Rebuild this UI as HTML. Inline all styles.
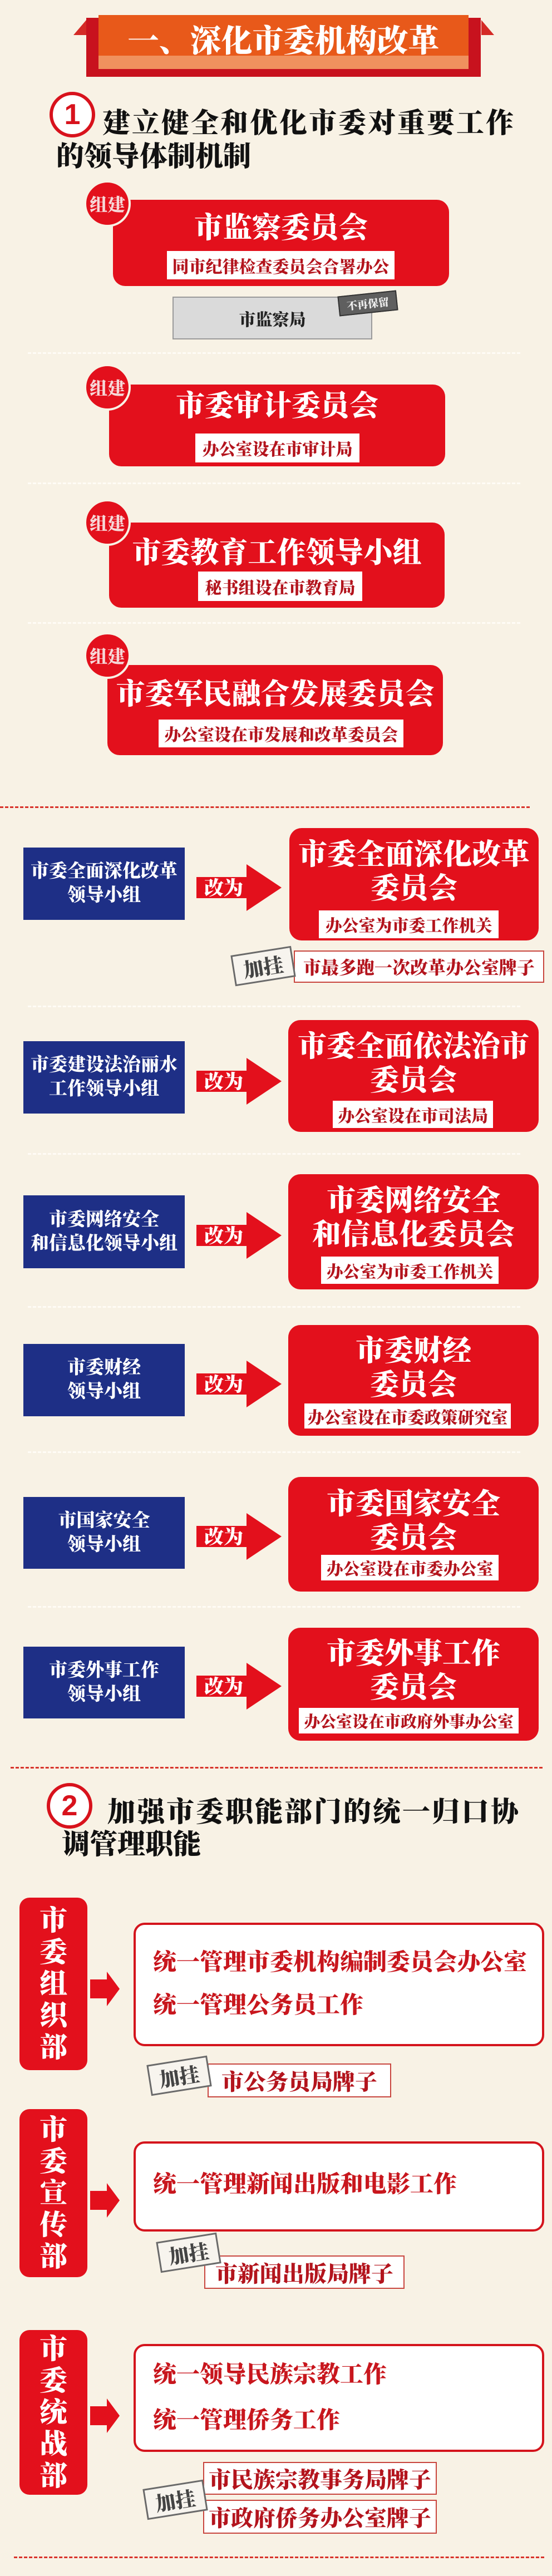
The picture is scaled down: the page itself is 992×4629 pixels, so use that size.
<!DOCTYPE html>
<html><head><meta charset="utf-8">
<style>
*{margin:0;padding:0;box-sizing:border-box}
body{width:992px;height:4629px;background:#f8f2e5;position:relative;overflow:hidden;font-family:"Liberation Serif","Noto Serif CJK SC",serif;font-weight:900}
.a{position:absolute}
.c{display:flex;align-items:center;justify-content:center;text-align:center}
.red{background:#e3101c;border-radius:22px}
.wl{background:#fff;color:#b3141d;font-size:30px;white-space:nowrap}
.blue{background:#1e2f86;color:#fff;font-size:33px;line-height:43px;flex-direction:column}
.tt{color:#fff;font-size:52px;line-height:61px;white-space:nowrap}
.dot{position:absolute;left:50px;width:885px;border-top:3px dashed #fffcf6}
.rd{position:absolute;height:0;border-top:3px dashed #d8332a}
.stamp{position:absolute;background:#f7f4ee;border:3px solid #6a6a6a;color:#444;font-size:36px;display:flex;align-items:center;justify-content:center;transform:rotate(-9deg)}
.lab{position:absolute;background:#fff;border:2px solid #c8453e;color:#b3141d;font-size:40px;display:flex;align-items:center;justify-content:center;white-space:nowrap}
.dept{position:absolute;left:35px;width:122px;background:#e3101c;border-radius:18px;color:#fff;font-size:50px;line-height:57px;display:flex;flex-direction:column;align-items:center;justify-content:center}
.wb{position:absolute;left:240px;width:738px;background:#fff;border:4px solid #d4141c;border-radius:20px;color:#c8161d;font-size:42px;padding-left:31px;display:flex;flex-direction:column;justify-content:center;white-space:nowrap}
.circ{position:absolute;width:82px;height:82px;border-radius:50%;border:6px solid #d8121c;background:#fff;color:#d8121c;font-size:52px;display:flex;align-items:center;justify-content:center;font-family:"Liberation Sans",sans-serif;font-weight:700}
.zj{position:absolute;width:84px;height:84px;border-radius:50%;background:#e3101c;border:4px solid #f8f2e5;color:#f6d8d8;font-size:32px;display:flex;align-items:center;justify-content:center}
.h{position:absolute;color:#111;font-size:50px;white-space:nowrap;line-height:60px;display:flex}
.h span{display:block;width:50px;text-align:center;flex:none}
.h.sp span{width:53px;text-align:left}
</style></head><body>

<!-- banner -->
<div class="a" style="left:155px;top:32px;width:709px;height:106px;background:#c8121e"></div>
<svg class="a" style="left:130px;top:32px" width="760" height="40"><polygon points="2,31 25,4 25,31" fill="#d42a26"/><polygon points="735,4 758,31 735,31" fill="#d42a26"/></svg>
<div class="a" style="left:177px;top:27px;width:665px;height:97px;background:#e8591a"></div>
<div class="a" style="left:177px;top:100px;width:665px;height:24px;background:#f0915e"></div>
<div class="a c" style="left:177px;top:27px;width:665px;height:86px;color:#fff;font-size:56px;white-space:nowrap">一、深化市委机构改革</div>

<!-- heading 1 -->
<div class="circ" style="left:89px;top:165px">1</div>
<div class="h sp" style="left:184px;top:191px"><span>建</span><span>立</span><span>健</span><span>全</span><span>和</span><span>优</span><span>化</span><span>市</span><span>委</span><span>对</span><span>重</span><span>要</span><span>工</span><span>作</span></div>
<div class="h" style="left:101px;top:251px"><span>的</span><span>领</span><span>导</span><span>体</span><span>制</span><span>机</span><span>制</span></div>

<!-- box1 -->
<div class="a red" style="left:203px;top:359px;width:604px;height:155px"></div>
<div class="a c tt" style="left:203px;top:380px;width:604px;height:61px">市监察委员会</div>
<div class="a c wl" style="left:300px;top:451px;width:409px;height:51px">同市纪律检查委员会合署办公</div>
<div class="zj" style="left:151px;top:324px">组建</div>
<div class="a c" style="left:310px;top:533px;width:359px;height:77px;background:#dadada;border:2px solid #9a9a9a;color:#222;font-size:30px">市监察局</div>
<div class="a c" style="left:608px;top:527px;width:106px;height:36px;background:#5f5f5f;color:#eee;font-size:19px;transform:rotate(-6deg);border:2px solid #333">不再保留</div>
<div class="dot" style="top:633px"></div>

<!-- box2 -->
<div class="a red" style="left:196px;top:691px;width:604px;height:147px"></div>
<div class="a c tt" style="left:196px;top:700px;width:604px;height:61px">市委审计委员会</div>
<div class="a c wl" style="left:351px;top:779px;width:295px;height:52px">办公室设在市审计局</div>
<div class="zj" style="left:151px;top:654px">组建</div>
<div class="dot" style="top:867px"></div>

<!-- box3 -->
<div class="a red" style="left:196px;top:939px;width:603px;height:153px"></div>
<div class="a c tt" style="left:196px;top:964px;width:603px;height:61px">市委教育工作领导小组</div>
<div class="a c wl" style="left:356px;top:1027px;width:295px;height:53px">秘书组设在市教育局</div>
<div class="zj" style="left:151px;top:897px">组建</div>
<div class="dot" style="top:1118px"></div>

<!-- box4 -->
<div class="a red" style="left:193px;top:1195px;width:603px;height:162px"></div>
<div class="a c tt" style="left:193px;top:1218px;width:603px;height:61px">市委军民融合发展委员会</div>
<div class="a c wl" style="left:285px;top:1293px;width:440px;height:50px">办公室设在市发展和改革委员会</div>
<div class="zj" style="left:151px;top:1136px">组建</div>

<div class="rd" style="left:0;top:1449px;width:952px"></div>

<svg width="0" height="0" style="position:absolute"><defs><g id="arr"><polygon points="0,23 90,23 90,0 153,42 90,84 90,61 0,61" fill="#e3101c"/></g></defs></svg>

<!-- row1 -->
<div class="a c blue" style="left:42px;top:1523px;width:290px;height:130px"><div>市委全面深化改革</div><div>领导小组</div></div>
<svg class="a" style="left:353px;top:1553px" width="154" height="85"><use href="#arr"/><text x="49" y="55" fill="#fff" font-size="35" text-anchor="middle" font-family="Liberation Serif, Noto Serif CJK SC, serif" font-weight="900">改为</text></svg>
<div class="a red" style="left:520px;top:1488px;width:448px;height:202px"></div>
<div class="a c tt" style="left:520px;top:1506px;width:448px;flex-direction:column"><div>市委全面深化改革</div><div>委员会</div></div>
<div class="a c wl" style="left:573px;top:1636px;width:323px;height:50px">办公室为市委工作机关</div>
<div class="lab" style="left:528px;top:1708px;width:450px;height:58px;font-size:32px">市最多跑一次改革办公室牌子</div>
<div class="stamp" style="left:418px;top:1708px;width:110px;height:56px">加挂</div>
<div class="dot" style="top:1807px"></div>

<!-- row2 -->
<div class="a c blue" style="left:42px;top:1871px;width:290px;height:130px"><div>市委建设法治丽水</div><div>工作领导小组</div></div>
<svg class="a" style="left:353px;top:1901px" width="154" height="85"><use href="#arr"/><text x="49" y="55" fill="#fff" font-size="35" text-anchor="middle" font-family="Liberation Serif, Noto Serif CJK SC, serif" font-weight="900">改为</text></svg>
<div class="a red" style="left:518px;top:1833px;width:450px;height:201px"></div>
<div class="a c tt" style="left:518px;top:1851px;width:450px;flex-direction:column"><div>市委全面依法治市</div><div>委员会</div></div>
<div class="a c wl" style="left:598px;top:1978px;width:288px;height:49px">办公室设在市司法局</div>
<div class="dot" style="top:2072px"></div>

<!-- row3 -->
<div class="a c blue" style="left:42px;top:2148px;width:290px;height:131px"><div>市委网络安全</div><div>和信息化领导小组</div></div>
<svg class="a" style="left:353px;top:2178px" width="154" height="85"><use href="#arr"/><text x="49" y="55" fill="#fff" font-size="35" text-anchor="middle" font-family="Liberation Serif, Noto Serif CJK SC, serif" font-weight="900">改为</text></svg>
<div class="a red" style="left:518px;top:2110px;width:450px;height:207px"></div>
<div class="a c tt" style="left:518px;top:2128px;width:450px;flex-direction:column"><div>市委网络安全</div><div>和信息化委员会</div></div>
<div class="a c wl" style="left:577px;top:2258px;width:319px;height:49px">办公室为市委工作机关</div>
<div class="dot" style="top:2347px"></div>

<!-- row4 -->
<div class="a c blue" style="left:42px;top:2415px;width:290px;height:130px"><div>市委财经</div><div>领导小组</div></div>
<svg class="a" style="left:353px;top:2445px" width="154" height="85"><use href="#arr"/><text x="49" y="55" fill="#fff" font-size="35" text-anchor="middle" font-family="Liberation Serif, Noto Serif CJK SC, serif" font-weight="900">改为</text></svg>
<div class="a red" style="left:518px;top:2381px;width:450px;height:199px"></div>
<div class="a c tt" style="left:518px;top:2398px;width:450px;flex-direction:column"><div>市委财经</div><div>委员会</div></div>
<div class="a c wl" style="left:547px;top:2522px;width:371px;height:45px">办公室设在市委政策研究室</div>
<div class="dot" style="top:2608px"></div>

<!-- row5 -->
<div class="a c blue" style="left:42px;top:2690px;width:290px;height:129px"><div>市国家安全</div><div>领导小组</div></div>
<svg class="a" style="left:353px;top:2719px" width="154" height="85"><use href="#arr"/><text x="49" y="55" fill="#fff" font-size="35" text-anchor="middle" font-family="Liberation Serif, Noto Serif CJK SC, serif" font-weight="900">改为</text></svg>
<div class="a red" style="left:518px;top:2654px;width:450px;height:206px"></div>
<div class="a c tt" style="left:518px;top:2673px;width:450px;flex-direction:column"><div>市委国家安全</div><div>委员会</div></div>
<div class="a c wl" style="left:577px;top:2794px;width:319px;height:46px">办公室设在市委办公室</div>
<div class="dot" style="top:2886px"></div>

<!-- row6 -->
<div class="a c blue" style="left:42px;top:2959px;width:290px;height:129px"><div>市委外事工作</div><div>领导小组</div></div>
<svg class="a" style="left:353px;top:2988px" width="154" height="85"><use href="#arr"/><text x="49" y="55" fill="#fff" font-size="35" text-anchor="middle" font-family="Liberation Serif, Noto Serif CJK SC, serif" font-weight="900">改为</text></svg>
<div class="a red" style="left:518px;top:2925px;width:450px;height:203px"></div>
<div class="a c tt" style="left:518px;top:2942px;width:450px;flex-direction:column"><div>市委外事工作</div><div>委员会</div></div>
<div class="a c wl" style="left:537px;top:3069px;width:395px;height:46px;font-size:29px">办公室设在市政府外事办公室</div>

<div class="rd" style="left:19px;top:3175px;width:956px"></div>

<!-- heading 2 -->
<div class="circ" style="left:84px;top:3204px">2</div>
<div class="h sp" style="left:193px;top:3226px"><span>加</span><span>强</span><span>市</span><span>委</span><span>职</span><span>能</span><span>部</span><span>门</span><span>的</span><span>统</span><span>一</span><span>归</span><span>口</span><span>协</span></div>
<div class="h" style="left:111px;top:3284px"><span>调</span><span>管</span><span>理</span><span>职</span><span>能</span></div>

<svg width="0" height="0" style="position:absolute"><defs><g id="sa"><polygon points="0,14 30,14 30,0 53,31 30,62 30,48 0,48" fill="#e3101c"/></g></defs></svg>

<!-- dept1 -->
<div class="dept" style="top:3410px;height:310px"><div>市</div><div>委</div><div>组</div><div>织</div><div>部</div></div>
<svg class="a" style="left:162px;top:3543px" width="54" height="63"><use href="#sa"/></svg>
<div class="wb" style="top:3455px;height:222px;line-height:77px"><div>统一管理市委机构编制委员会办公室</div><div>统一管理公务员工作</div></div>
<div class="lab" style="left:373px;top:3708px;width:330px;height:61px">市公务员局牌子</div>
<div class="stamp" style="left:267px;top:3702px;width:110px;height:56px">加挂</div>

<!-- dept2 -->
<div class="dept" style="top:3790px;height:302px"><div>市</div><div>委</div><div>宣</div><div>传</div><div>部</div></div>
<svg class="a" style="left:162px;top:3923px" width="54" height="63"><use href="#sa"/></svg>
<div class="wb" style="top:3848px;height:162px;padding-bottom:14px"><div>统一管理新闻出版和电影工作</div></div>
<div class="lab" style="left:367px;top:4053px;width:360px;height:60px">市新闻出版局牌子</div>
<div class="stamp" style="left:284px;top:4020px;width:110px;height:56px">加挂</div>

<!-- dept3 -->
<div class="dept" style="top:4187px;height:296px"><div>市</div><div>委</div><div>统</div><div>战</div><div>部</div></div>
<svg class="a" style="left:162px;top:4310px" width="54" height="63"><use href="#sa"/></svg>
<div class="wb" style="top:4212px;height:194px;line-height:82px"><div>统一领导民族宗教工作</div><div>统一管理侨务工作</div></div>
<div class="lab" style="left:365px;top:4424px;width:420px;height:59px">市民族宗教事务局牌子</div>
<div class="lab" style="left:365px;top:4492px;width:420px;height:61px">市政府侨务办公室牌子</div>
<div class="stamp" style="left:260px;top:4464px;width:110px;height:56px">加挂</div>

<div class="rd" style="left:25px;top:4594px;width:953px"></div>
</body></html>
